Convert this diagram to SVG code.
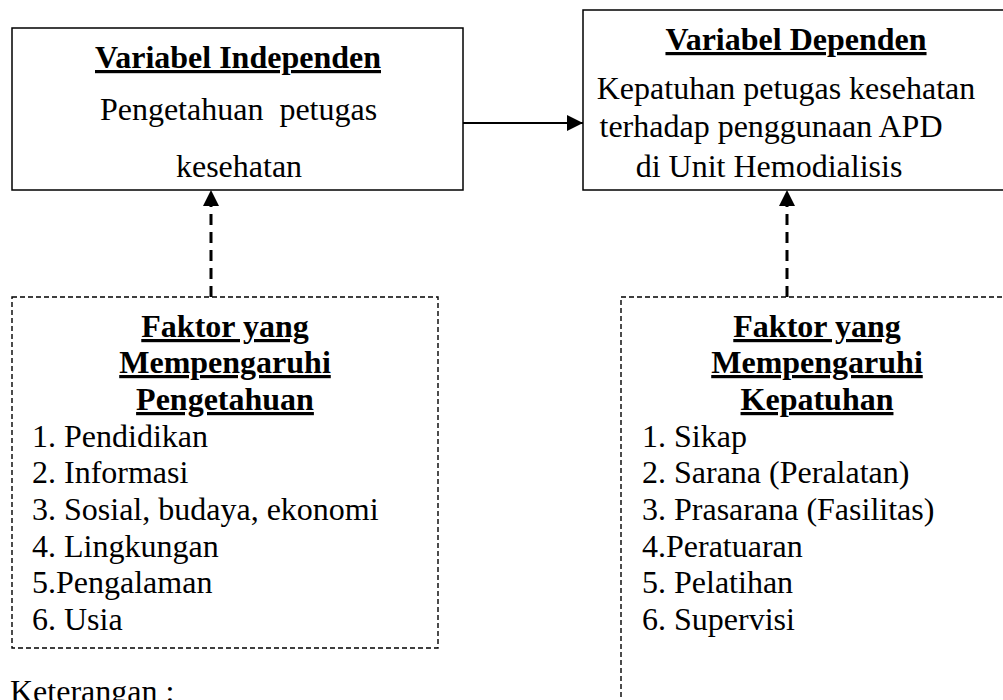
<svg xmlns="http://www.w3.org/2000/svg" width="1003" height="700" viewBox="0 0 1003 700">
<style>
text{font-family:"Liberation Serif","Times New Roman",serif;font-size:32px;fill:#000}
.h{font-weight:bold;text-decoration:underline}
.c{text-anchor:middle}
.solid{fill:#fff;stroke:#000;stroke-width:1.5}
.dash{fill:none;stroke:#000;stroke-width:1.4;stroke-dasharray:5 3}
.conn{fill:none;stroke:#000;stroke-width:2.2}
.dconn{stroke-width:3;stroke-dasharray:11 7}
</style>
<defs>
<marker id="ah" markerUnits="userSpaceOnUse" markerWidth="18" markerHeight="16" refX="16" refY="8" orient="auto">
<path d="M0,0 L16,8 L0,16 Z" fill="#000"/>
</marker>
</defs>
<rect width="1003" height="700" fill="#fff"/>
<g id="independen">
<rect class="solid" x="12" y="28" width="451" height="162"/>
<text class="h c" x="238" y="68">Variabel Independen</text>
<text class="c" x="238.5" y="120" xml:space="preserve">Pengetahuan  petugas</text>
<text class="c" x="239" y="177">kesehatan</text>
</g>
<g id="dependen">
<rect class="solid" x="583" y="10" width="430" height="180"/>
<text class="h c" x="796" y="50">Variabel Dependen</text>
<text class="c" x="786" y="99">Kepatuhan petugas kesehatan</text>
<text class="c" x="771" y="137">terhadap penggunaan APD</text>
<text class="c" x="769" y="177">di Unit Hemodialisis</text>
</g>
<g id="faktor-pengetahuan">
<rect class="dash" x="12" y="297" width="426" height="351"/>
<text class="h c" x="225" y="337">Faktor yang</text>
<text class="h c" x="225" y="373">Mempengaruhi</text>
<text class="h c" x="225" y="410">Pengetahuan</text>
<text x="32" y="447">1. Pendidikan</text>
<text x="32" y="483">2. Informasi</text>
<text x="32" y="520">3. Sosial, budaya, ekonomi</text>
<text x="32" y="557">4. Lingkungan</text>
<text x="32" y="593">5.Pengalaman</text>
<text x="32" y="630">6. Usia</text>
</g>
<g id="faktor-kepatuhan">
<rect class="dash" x="621" y="297" width="400" height="420"/>
<text class="h c" x="817" y="337">Faktor yang</text>
<text class="h c" x="817" y="373">Mempengaruhi</text>
<text class="h c" x="817" y="410">Kepatuhan</text>
<text x="642" y="447">1. Sikap</text>
<text x="642" y="483">2. Sarana (Peralatan)</text>
<text x="642" y="520">3. Prasarana (Fasilitas)</text>
<text x="642" y="557">4.Peratuaran</text>
<text x="642" y="593">5. Pelatihan</text>
<text x="642" y="630">6. Supervisi</text>
</g>
<g id="keterangan">
<text x="10" y="702">Keterangan :</text>
</g>
<g id="connectors">
<line class="conn" x1="463" y1="123" x2="583" y2="123" marker-end="url(#ah)"/>
<line class="conn dconn" x1="211" y1="297" x2="211" y2="190" marker-end="url(#ah)"/>
<line class="conn dconn" x1="787" y1="297" x2="787" y2="190" marker-end="url(#ah)"/>
</g>
</svg>
